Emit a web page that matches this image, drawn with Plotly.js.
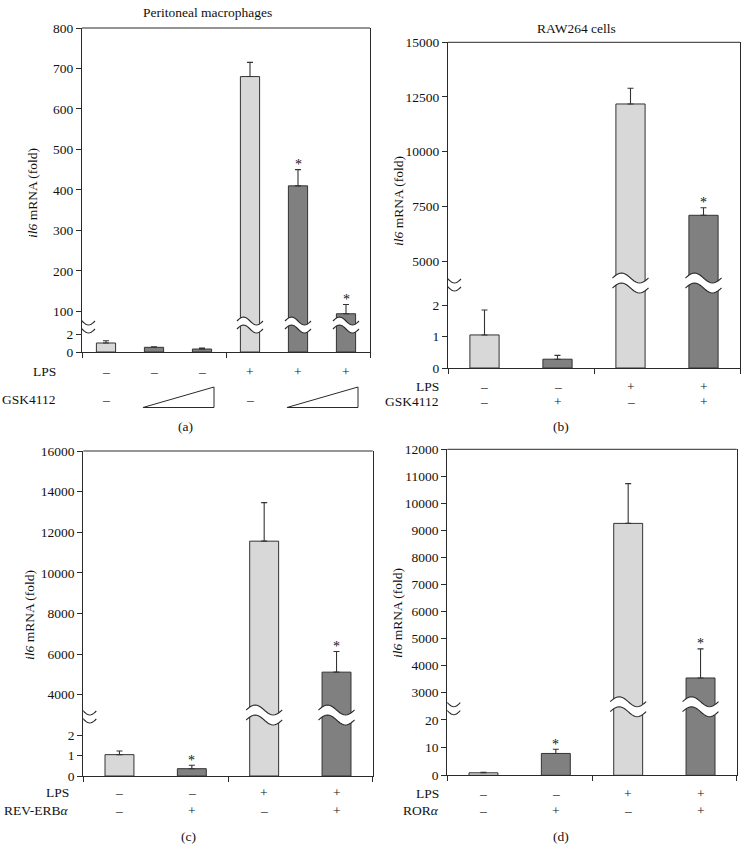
<!DOCTYPE html>
<html><head><meta charset="utf-8">
<script src="https://cdn.plot.ly/plotly-3.0.1.min.js"></script>
<style>html,body{margin:0;padding:0;background:#fff}</style>
</head><body><div id="chart" style="width:748px;height:850px"></div>
<script>
// ---------------- data ----------------
// (a) Peritoneal macrophages
const lpsA = ['–','–','–','+','+','+'];
const gskA = ['–','ramp','ramp','–','ramp','ramp'];
const valsA = [1.0, 0.52, 0.33, 680, 410, 94];
const errA = [0.25, 0.07, 0.11, 35, 40, 23];
const sigA = [false, false, false, false, true, true];
const lowTicksA = [0, 2];
const upTicksA = [100, 200, 300, 400, 500, 600, 700, 800];

// (b) RAW264 cells
const lpsB = ['–','–','+','+'];
const gskB = ['–','+','–','+'];
const valsB = [1.05, 0.28, 12180, 7090];
const errB = [0.79, 0.12, 720, 346];
const sigB = [false, false, false, true];
const lowTicksB = [0, 1, 2];
const upTicksB = [5000, 7500, 10000, 12500, 15000];

// (c) REV-ERBalpha
const lpsC = ['–','–','+','+'];
const revC = ['–','+','–','+'];
const valsC = [1.05, 0.36, 11560, 5110];
const errC = [0.18, 0.17, 1900, 1020];
const sigC = [false, true, false, true];
const lowTicksC = [0, 1, 2];
const upTicksC = [4000, 6000, 8000, 10000, 12000, 14000, 16000];

// (d) RORalpha
const lpsD = ['–','–','+','+'];
const rorD = ['–','+','–','+'];
const valsD = [0.9, 7.9, 9260, 3544];
const errD = [0.15, 1.5, 1470, 1076];
const sigD = [false, true, false, true];
const lowTicksD = [0, 10, 20];
const upTicksD = [3000, 4000, 5000, 6000, 7000, 8000, 9000, 10000, 11000, 12000];

// ---------------- layout helpers ----------------
const W = 748, H = 850;
const px = v => v / W;
const py = v => 1 - v / H;
const FONT = 'Liberation Serif, Times New Roman, serif';
const INK = '#2a2a2a';
const TXT = '#111111';
const LIGHT = '#d8d8d8', DARK = '#808080';

const panels = [
  {lps: lpsA, trt: gskA, trtName: 'GSK4112', vals: valsA, err: errA, sig: sigA, lowTicks: lowTicksA, upTicks: upTicksA,
   x0: 82, x1: 370, top: 28, brk: 325, zero: 352, lowMax: 3.0, upMin: 66.2, upMax: 800,
   rowY: [371.5, 399], labelX: 58, triY: [407.5, 387],
   title: 'Peritoneal macrophages', titleXY: [207, 13], ytXY: [32, 193], cap: '(a)', capXY: [185, 426],
   wave: {w: 13, a: 4, g: 8}},
  {lps: lpsB, trt: gskB, trtName: 'GSK4112', vals: valsB, err: errB, sig: sigB, lowTicks: lowTicksB, upTicks: upTicksB,
   x0: 448, x1: 740, top: 42.3, brk: 283, zero: 368, lowMax: 2.70, upMin: 3994, upMax: 15000,
   rowY: [386.7, 401.5], labelX: 441,
   title: 'RAW264 cells', titleXY: [576, 28], ytXY: [399, 201], cap: '(b)', capXY: [561, 426],
   wave: {w: 18, a: 5, g: 10}},
  {lps: lpsC, trt: revC, trtName: 'REV-ERB<i>α</i>', vals: valsC, err: errC, sig: sigC, lowTicks: lowTicksC, upTicks: upTicksC,
   x0: 83.3, x1: 372.7, top: 451, brk: 715, zero: 776, lowMax: 3.0, upMin: 3000, upMax: 16000,
   rowY: [792.7, 810], labelX: 71,
   title: '', ytXY: [29, 615], cap: '(c)', capXY: [188, 836],
   wave: {w: 18, a: 5, g: 10}},
  {lps: lpsD, trt: rorD, trtName: 'ROR<i>α</i>', vals: valsD, err: errD, sig: sigD, lowTicks: lowTicksD, upTicks: upTicksD,
   x0: 447.3, x1: 736.7, top: 449.3, brk: 706.7, zero: 775.3, lowMax: 24.8, upMin: 2482, upMax: 12000,
   rowY: [793.3, 810], labelX: 441,
   title: '', ytXY: [397, 613], cap: '(d)', capXY: [561, 836],
   wave: {w: 18, a: 5, g: 10}}
];

const data = [], shapes = [], annotations = [];
const layout = {
  width: W, height: H, margin: {l: 0, r: 0, t: 0, b: 0},
  paper_bgcolor: '#ffffff', plot_bgcolor: '#ffffff', showlegend: false,
  font: {family: FONT, size: 13, color: TXT},
  shapes: shapes, annotations: annotations
};

function wavePts(w, a, dy) {
  const pts = [];
  const N = 20;
  for (let s = 0; s <= N; s++) {
    const x = -w + 2 * w * s / N;
    pts.push([x, dy + a * Math.sin(Math.PI * (x + w) / w)]);
  }
  return pts;
}
function addBreak(xref, xanchor, yanchor, wv) {
  const up = wavePts(wv.w, wv.a, wv.g / 2), lo = wavePts(wv.w, wv.a, -wv.g / 2);
  const fmt = p => p[0].toFixed(2) + ',' + p[1].toFixed(2);
  const fillPath = 'M' + up.map(fmt).join(' L') + ' L' + lo.slice().reverse().map(fmt).join(' L') + ' Z';
  const base = {type: 'path', xref: xref, yref: 'paper', xsizemode: 'pixel', ysizemode: 'pixel',
                xanchor: xanchor, yanchor: yanchor, layer: 'above'};
  shapes.push(Object.assign({}, base, {path: fillPath, fillcolor: '#ffffff', line: {width: 0}}));
  [up, lo].forEach(c => shapes.push(Object.assign({}, base, {path: 'M' + c.map(fmt).join(' L'), line: {color: INK, width: 1.1}})));
}
function txt(text, xref, x, y, opts) {
  annotations.push(Object.assign({text: text, xref: xref, x: x, yref: 'paper', y: y, showarrow: false,
    xanchor: 'center', yanchor: 'middle', font: {family: FONT, size: 13.5, color: TXT}}, opts || {}));
}

panels.forEach((p, k) => {
  const xn = k + 1, yl = 2 * k + 1, yu = 2 * k + 2;
  const xid = 'x' + (xn > 1 ? xn : ''), ylid = 'y' + (yl > 1 ? yl : ''), yuid = 'y' + yu;
  const xkey = 'xaxis' + (xn > 1 ? xn : ''), ylkey = 'yaxis' + (yl > 1 ? yl : ''), yukey = 'yaxis' + yu;
  const n = p.vals.length;
  const idx = p.vals.map((_, i) => i);
  const colors = p.trt.map(t => t === '–' ? LIGHT : DARK);
  const zeros = p.vals.map(() => 0);

  [ylid, yuid].forEach(yid => data.push({
    type: 'bar', x: idx, y: p.vals, xaxis: xid, yaxis: yid, width: 0.4,
    marker: {color: colors, line: {color: '#333333', width: 1}},
    error_y: {type: 'data', symmetric: false, array: p.err, arrayminus: zeros,
              color: '#333333', thickness: 1.1, width: 3},
    hoverinfo: 'skip'
  }));

  layout[xkey] = {domain: [px(p.x0), px(p.x1)], range: [-0.5, n - 0.5], anchor: ylid,
    tickmode: 'array', tickvals: [-0.5, (n - 1) / 2, n - 0.5], ticktext: ['', '', ''],
    ticks: 'outside', ticklen: 5, tickcolor: INK, tickwidth: 1,
    showline: true, linecolor: INK, linewidth: 1, showgrid: false, zeroline: false, fixedrange: true};
  const yc = {anchor: xid, ticks: 'outside', ticklen: 5, tickcolor: INK, tickwidth: 1,
    showline: true, mirror: true, linecolor: INK, linewidth: 1, showgrid: false, zeroline: false,
    tickmode: 'array', tickfont: {family: FONT, size: 13.5, color: TXT}, fixedrange: true};
  layout[ylkey] = Object.assign({}, yc, {domain: [py(p.zero), py(p.brk)], range: [0, p.lowMax],
    tickvals: p.lowTicks, ticktext: p.lowTicks.map(String)});
  layout[yukey] = Object.assign({}, yc, {domain: [py(p.brk), py(p.top)], range: [p.upMin, p.upMax],
    tickvals: p.upTicks, ticktext: p.upTicks.map(String)});

  // top border of the frame
  shapes.push({type: 'line', xref: xid + ' domain', yref: yuid + ' domain', x0: 0, x1: 1, y0: 1, y1: 1,
               line: {color: INK, width: 1}, layer: 'above'});

  // axis breaks
  addBreak(xid, -0.5, py(p.brk), {w: 13, a: 4, g: 8});
  p.vals.forEach((v, i) => { if (v > p.lowMax) addBreak(xid, i, py(p.brk), p.wave); });

  // significance asterisks
  p.sig.forEach((s, i) => {
    if (!s) return;
    const top = p.vals[i] + p.err[i];
    annotations.push({text: '*', xref: xid, x: i, yref: top > p.lowMax ? yuid : ylid, y: top,
      yanchor: 'bottom', xanchor: 'center', yshift: -4.5, showarrow: false,
      font: {family: FONT, size: 14, color: TXT}});
  });

  // treatment rows
  txt('LPS', 'paper', px(p.labelX), py(p.rowY[0]), {xanchor: 'right'});
  txt(p.trtName, 'paper', px(p.labelX), py(p.rowY[1]), {xanchor: 'right'});
  p.lps.forEach((s, i) => txt(s, xid, i, py(p.rowY[0])));
  p.trt.forEach((s, i) => { if (s !== 'ramp') txt(s, xid, i, py(p.rowY[1])); });
  // ramps (increasing dose) as triangles
  let i = 0;
  while (i < n) {
    if (p.trt[i] === 'ramp') {
      let j = i;
      while (j + 1 < n && p.trt[j + 1] === 'ramp') j++;
      const xa = i - 0.23, xb = j + 0.25, yb = py(p.triY[0]), yt = py(p.triY[1]);
      shapes.push({type: 'path', xref: xid, yref: 'paper',
        path: `M${xa},${yb} L${xb},${yb} L${xb},${yt} Z`, line: {color: INK, width: 1}, fillcolor: 'rgba(0,0,0,0)'});
      i = j + 1;
    } else i++;
  }

  if (p.title) txt(p.title, 'paper', px(p.titleXY[0]), py(p.titleXY[1]));
  txt('<i>il6</i> mRNA (fold)', 'paper', px(p.ytXY[0]), py(p.ytXY[1]), {textangle: -90});
  txt(p.cap, 'paper', px(p.capXY[0]), py(p.capXY[1]));
});

Plotly.newPlot('chart', data, layout, {staticPlot: true, displayModeBar: false});
</script>
</body></html>
